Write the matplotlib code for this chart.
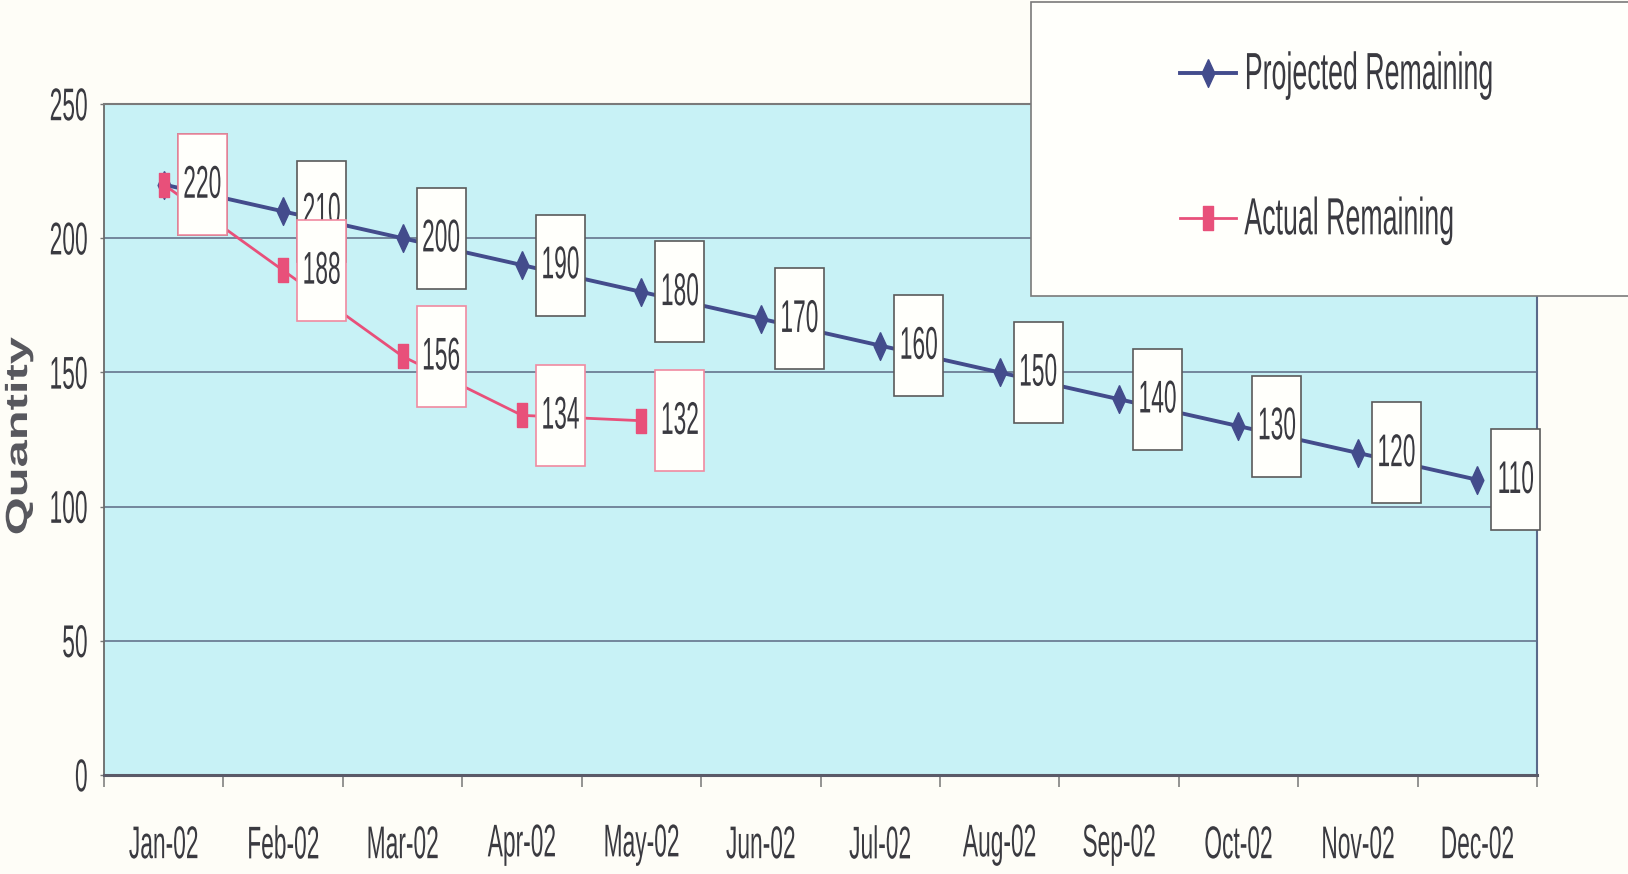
import matplotlib
matplotlib.use('Agg')
import matplotlib.pyplot as plt
import numpy as np
from matplotlib import font_manager
from matplotlib.path import Path
from matplotlib.transforms import Affine2D
from matplotlib.patheffects import AbstractPathEffect
from matplotlib.patches import Rectangle

# ---------------- data ----------------
months = ['Jan-02', 'Feb-02', 'Mar-02', 'Apr-02', 'May-02', 'Jun-02',
          'Jul-02', 'Aug-02', 'Sep-02', 'Oct-02', 'Nov-02', 'Dec-02']
projected = [220, 210, 200, 190, 180, 170, 160, 150, 140, 130, 120, 110]
actual = [220, 188, 156, 134, 132]
series_names = ['Projected Remaining', 'Actual Remaining']
y_ticks = [0, 50, 100, 150, 200, 250]
y_label = 'Quantity'

# ---------------- fonts ----------------
def has_font(name):
    try:
        font_manager.findfont(font_manager.FontProperties(family=name),
                              fallback_to_default=False)
        return True
    except Exception:
        return False

if has_font('Liberation Sans Narrow'):
    FAM = ['Liberation Sans Narrow', 'DejaVu Sans']
    NARROW = 1.0
else:
    FAM = ['Liberation Sans', 'DejaVu Sans']
    NARROW = 0.82


class Stretch(AbstractPathEffect):
    """Stretch glyphs (the scanned original is tall and narrow).
    anchor: which horizontal point of the ink box stays fixed."""
    def __init__(self, sx=1.0, sy=1.0, anchor='center'):
        super().__init__()
        self.sx, self.sy, self.anchor = sx, sy, anchor

    def draw_path(self, renderer, gc, tpath, affine, rgbFace=None):
        ext = tpath.get_extents()
        if self.anchor == 'left':
            cx = ext.x0
        elif self.anchor == 'right':
            cx = ext.x1
        else:
            cx = (ext.x0 + ext.x1) / 2.0
        cy = (ext.y0 + ext.y1) / 2.0
        t = Affine2D().translate(-cx, -cy).scale(self.sx, self.sy).translate(cx, cy)
        renderer.draw_path(gc, tpath, t + affine, rgbFace)


BOX_W, BOX_H = 49.0, 101.0   # label box size in pixels


def label_box(x0, y0, width, height, mutation_size):
    cx = x0 + width / 2.0
    cy = y0 + height / 2.0
    w, h = BOX_W / 2.0, BOX_H / 2.0
    return Path([(cx - w, cy - h), (cx + w, cy - h), (cx + w, cy + h),
                 (cx - w, cy + h), (cx - w, cy - h)],
                [Path.MOVETO, Path.LINETO, Path.LINETO, Path.LINETO, Path.CLOSEPOLY])


# ---------------- style ----------------
BG_FIG = '#fefdf7'
BG_AX = '#c8f2f6'
C_PROJ = '#434c8c'
C_ACT = '#e8507a'
C_TEXT = '#3a3a40'
DSX = NARROW
DSY = 1.65

diamond = [(0, 1), (0.46, 0), (0, -1), (-0.46, 0), (0, 1)]
tallsq = [(-0.45, -1), (0.45, -1), (0.45, 1), (-0.45, 1), (-0.45, -1)]

W, H = 1628, 874
fig = plt.figure(figsize=(W / 100, H / 100), dpi=100, facecolor=BG_FIG)
ax = fig.add_axes([104 / W, 1 - 775 / H, (1537 - 104) / W, (775 - 104) / H])
ax.set_facecolor(BG_AX)

x = np.arange(len(months))
ax.set_xlim(-0.5, len(months) - 0.5)
ax.set_ylim(0, 250)

lp, = ax.plot(x, projected, color=C_PROJ, lw=2.8, marker=diamond, ms=20,
              mec=C_PROJ, mfc=C_PROJ, zorder=3, label=series_names[0])
la, = ax.plot(x[:len(actual)], actual, color=C_ACT, lw=2.0, marker=tallsq, ms=17,
              mec=C_ACT, mfc=C_ACT, zorder=4, label=series_names[1])

off_pt = 38.5 * 72 / 100
for i, v in enumerate(projected):
    ax.annotate(str(v), (x[i], v), xytext=(off_pt, 0), textcoords='offset points',
                ha='center', va='center', fontsize=20, family=FAM, color=C_TEXT,
                bbox=dict(boxstyle=label_box, fc='#fffffb', ec='#5a5a5a', lw=1.2),
                path_effects=[Stretch(DSX, DSY)], zorder=5, annotation_clip=False)
for i, v in enumerate(actual):
    ax.annotate(str(v), (x[i], v), xytext=(off_pt, 0), textcoords='offset points',
                ha='center', va='center', fontsize=20, family=FAM, color=C_TEXT,
                bbox=dict(boxstyle=label_box, fc='#fffffb', ec='#f08aa0', lw=1.2),
                path_effects=[Stretch(DSX, DSY)], zorder=6, annotation_clip=False)

# axes / grid
ax.set_yticks(y_ticks)
ax.yaxis.grid(True, color='#5c6a84', lw=1.1)
ax.set_axisbelow(True)
ax.set_xticks(x)
ax.set_xticklabels(months)
ax.set_xticks(np.arange(-0.5, len(months), 1.0), minor=True)
ax.tick_params(axis='x', which='major', length=0, pad=41, labelsize=20,
               labelcolor=C_TEXT)
ax.tick_params(axis='x', which='minor', length=8.6, width=1.1, color='#777777',
               direction='out')
ax.tick_params(axis='y', which='major', length=3, width=1.0, color='#777777',
               pad=8.6, labelsize=20, labelcolor=C_TEXT)
for lbl in ax.get_xticklabels():
    lbl.set_family(FAM)
    lbl.set_path_effects([Stretch(NARROW, DSY, 'center')])
for lbl in ax.get_yticklabels():
    lbl.set_family(FAM)
    lbl.set_path_effects([Stretch(DSX, DSY, 'right')])

for side, col, lw in [('top', '#7a7a7a', 1.5), ('left', '#6a6a6a', 1.3),
                      ('bottom', '#5a5a68', 2.2), ('right', '#5a6a8a', 1.5)]:
    ax.spines[side].set_color(col)
    ax.spines[side].set_linewidth(lw)

fig.text(19 / W, 1 - 436 / H, y_label, rotation=90, ha='center', va='center',
         fontsize=22, fontweight='bold', family=['Liberation Sans', 'DejaVu Sans'],
         color='#58585e', path_effects=[Stretch(1.6, 1.0)])

# legend box + legend
box = Rectangle((1031 / W, 1 - 296 / H), 0.5, (296 - 2) / H,
                transform=fig.transFigure, fc='#fffffb', ec='#7a7a7a', lw=1.2,
                zorder=3)
fig.add_artist(box)
leg = fig.legend(handles=[lp, la], loc='upper left',
                 bbox_to_anchor=(1180 / W, 1 - 60 / H), frameon=False,
                 prop={'family': FAM, 'size': 23.5}, handlelength=1.72,
                 handletextpad=0.25, labelspacing=3.5, borderpad=0,
                 borderaxespad=0, numpoints=1)
leg.set_zorder(5)
for t in leg.get_texts():
    t.set_color(C_TEXT)
    t.set_path_effects([Stretch(NARROW, 1.6, 'left')])

fig.savefig('out.png', dpi=100, facecolor=BG_FIG)
